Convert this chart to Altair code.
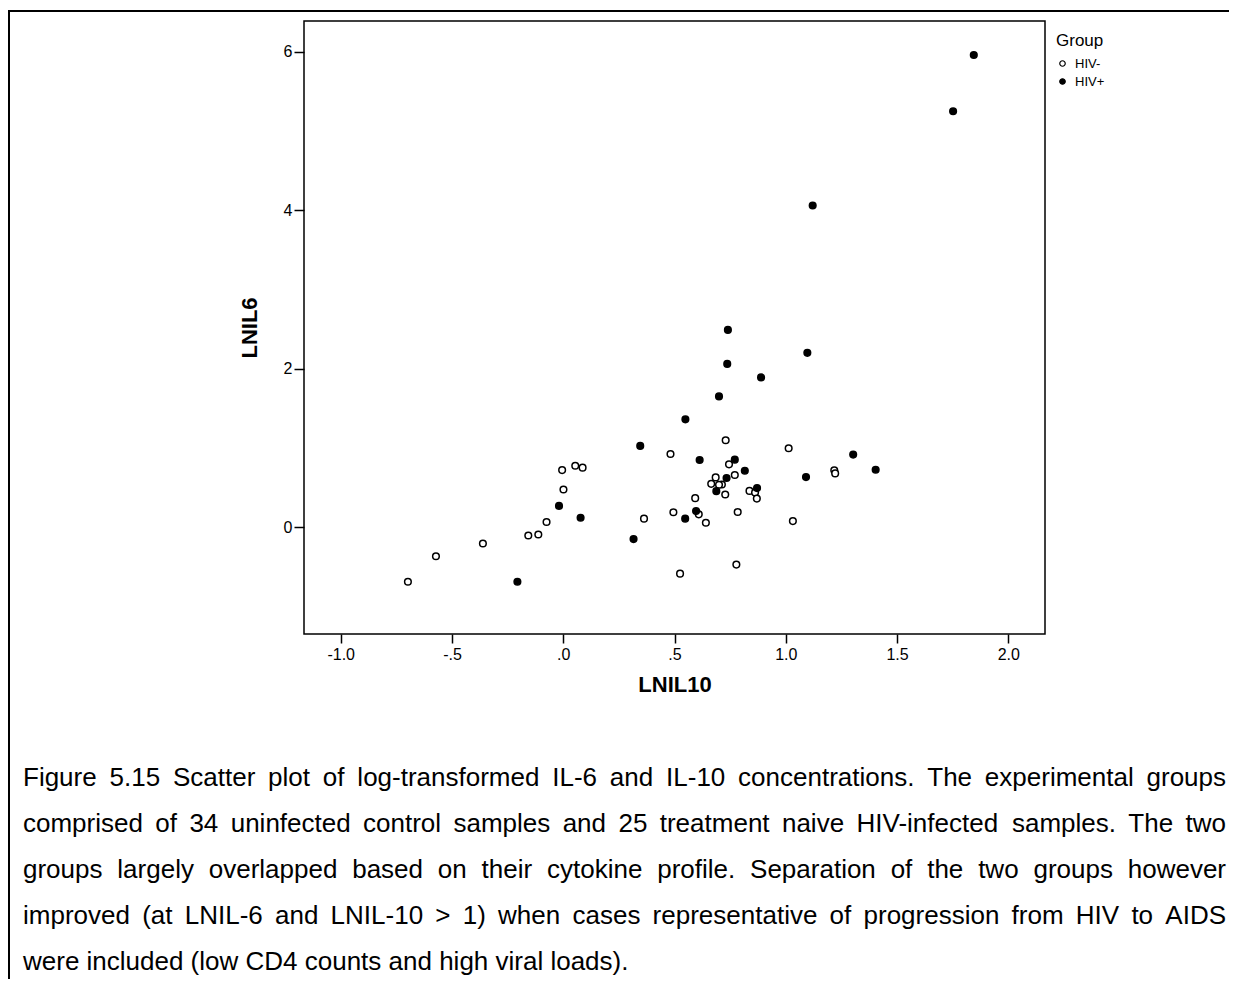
import altair as alt
import pandas as pd

# ---------------- data ----------------
groups = ["HIV-", "HIV+"]

hivneg_lnil10 = [-0.698, -0.572, -0.361, -0.157, -0.112, -0.075, 0.730, 0.482, 1.013, -0.005,
                 0.054, 0.087, 0.745, 0.771, 0.685, 0.665, 0.713, 0.700, 0.001, 0.837,
                 0.862, 0.728, 0.870, 0.593, 1.218, 1.222, 0.784, 0.495, 0.609, 0.363,
                 0.641, 1.032, 0.778, 0.525]
hivneg_lnil6 = [-0.690, -0.368, -0.207, -0.106, -0.093, 0.064, 1.097, 0.923, 0.995, 0.720,
                0.775, 0.750, 0.792, 0.657, 0.627, 0.546, 0.538, 0.534, 0.474, 0.457,
                0.436, 0.411, 0.360, 0.365, 0.716, 0.678, 0.191, 0.187, 0.161, 0.106,
                0.055, 0.076, -0.474, -0.588]

hivpos_lnil10 = [1.845, 1.752, 1.121, 0.740, 0.737, 1.097, 0.889, 0.700, 0.549, 0.346,
                 0.613, 0.771, 0.816, 0.734, 0.688, 0.871, 1.303, 1.091, -0.019, 0.078,
                 0.597, 0.548, 0.316, 1.404, -0.206]
hivpos_lnil6 = [5.96, 5.25, 4.06, 2.49, 2.06, 2.20, 1.89, 1.65, 1.36, 1.025,
                0.847, 0.851, 0.711, 0.619, 0.454, 0.492, 0.915, 0.631, 0.267, 0.118,
                0.203, 0.106, -0.152, 0.724, -0.690]

x_ticks = [-1.0, -0.5, 0.0, 0.5, 1.0, 1.5, 2.0]
x_tick_labels = ["-1.0", "-.5", ".0", ".5", "1.0", "1.5", "2.0"]
y_ticks = [0, 2, 4, 6]
y_tick_labels = ["0", "2", "4", "6"]

caption_lines = [
    "Figure 5.15 Scatter plot of log-transformed IL-6 and IL-10 concentrations. The experimental groups",
    "comprised of 34 uninfected control samples and 25 treatment naive HIV-infected samples. The two",
    "groups largely overlapped based on their cytokine profile. Separation of the two groups however",
    "improved (at LNIL-6 and LNIL-10 > 1) when cases representative of progression from HIV to AIDS",
    "were included (low CD4 counts and high viral loads).",
]

# ---------------- layout constants (pixels) ----------------
PLOT_W, PLOT_H = 741, 613
PAD_L, PAD_T = 296, 13
ORIGIN_X, ORIGIN_Y = PAD_L + 8, PAD_T + 8  # page coords of plot origin

CAP_FONT = 26
CAP_LEFT, CAP_RIGHT = 23, 1226
CAP_BASE0, CAP_STEP = 786, 46

# Arial / Liberation Sans advance widths (per 1000 em) for justification
W = {" ": 278, ".": 278, ",": 278, "-": 333, "(": 333, ")": 333, ">": 584}
W.update({d: 556 for d in "0123456789"})
W.update(dict(zip("abcdefghijklmnopqrstuvwxyz",
                  [556, 556, 500, 556, 556, 278, 556, 556, 222, 222, 500, 222, 833,
                   556, 556, 556, 556, 333, 500, 278, 556, 500, 722, 500, 500, 500])))
W.update(dict(zip("ABCDEFGHIJKLMNOPQRSTUVWXYZ",
                  [667, 667, 722, 722, 667, 611, 778, 722, 278, 500, 667, 556, 833,
                   722, 778, 667, 778, 722, 667, 611, 722, 667, 944, 667, 667, 611])))


def text_w(s):
    return sum(W.get(c, 556) for c in s) * CAP_FONT / 1000.0


rows = []
for i, line in enumerate(caption_lines):
    words = line.split(" ")
    base = CAP_BASE0 + i * CAP_STEP
    if i < len(caption_lines) - 1:
        total = sum(text_w(w) for w in words)
        gap = (CAP_RIGHT - CAP_LEFT - total) / (len(words) - 1)
    else:
        gap = text_w(" ")
    x = CAP_LEFT
    for w in words:
        rows.append({"word": w, "px": x - ORIGIN_X, "py": base - ORIGIN_Y})
        x += text_w(w) + gap
cap_df = pd.DataFrame(rows)

df = pd.DataFrame({
    "LNIL10": hivneg_lnil10 + hivpos_lnil10,
    "LNIL6": hivneg_lnil6 + hivpos_lnil6,
    "Group": [groups[0]] * len(hivneg_lnil10) + [groups[1]] * len(hivpos_lnil10),
})


def label_expr(vals, labels):
    expr = "''"
    for v, l in reversed(list(zip(vals, labels))):
        expr = f"abs(datum.value - ({v})) < 1e-6 ? '{l}' : {expr}"
    return expr


FONT = "Liberation Sans"

points = alt.Chart(df).mark_point(
    filled=True, size=44, stroke="black", strokeWidth=1.5, opacity=1, shape="circle"
).encode(
    x=alt.X("LNIL10:Q",
            scale=alt.Scale(domain=[-1.165, 2.165], nice=False, zero=False),
            axis=alt.Axis(values=x_ticks, labelExpr=label_expr(x_ticks, x_tick_labels),
                          title="LNIL10", grid=False, domain=False, tickSize=9,
                          tickColor="black", tickWidth=1.5, labelPadding=3,
                          labelFontSize=16, labelColor="black", labelFont=FONT,
                          titleFont=FONT, titleFontSize=22, titleFontWeight="bold",
                          titleColor="black", titlePadding=12)),
    y=alt.Y("LNIL6:Q",
            scale=alt.Scale(domain=[-1.35, 6.39], nice=False, zero=False),
            axis=alt.Axis(values=y_ticks, labelExpr=label_expr(y_ticks, y_tick_labels),
                          title="LNIL6", grid=False, domain=False, tickSize=10,
                          tickColor="black", tickWidth=1.5, labelPadding=2,
                          labelFontSize=16, labelColor="black", labelFont=FONT,
                          titleFont=FONT, titleFontSize=22, titleFontWeight="bold",
                          titleColor="black", titlePadding=22)),
    fill=alt.Fill("Group:N",
                  scale=alt.Scale(domain=groups, range=["white", "black"]),
                  legend=alt.Legend(title="Group", orient="none",
                                    legendX=1056 - ORIGIN_X, legendY=33 - ORIGIN_Y,
                                    titleFont=FONT, titleFontSize=17,
                                    titleFontWeight="normal", titleColor="black",
                                    titlePadding=7, labelFont=FONT, labelFontSize=13,
                                    labelColor="black", symbolType="circle",
                                    symbolSize=30, symbolStrokeColor="black",
                                    symbolStrokeWidth=1.2, rowPadding=4,
                                    labelOffset=6)),
)

caption = alt.Chart(cap_df).mark_text(
    align="left", baseline="alphabetic", font=FONT, fontSize=CAP_FONT, color="black"
).encode(
    x=alt.X("px:Q", scale=None, axis=None),
    y=alt.Y("py:Q", scale=None, axis=None),
    text="word:N",
)

border_top = alt.Chart(pd.DataFrame({"k": [0]})).mark_rule(
    color="black", strokeWidth=2
).encode(
    x=alt.value(8 - ORIGIN_X), x2=alt.value(1237 - ORIGIN_X),
    y=alt.value(11 - ORIGIN_Y),
)
border_left = alt.Chart(pd.DataFrame({"k": [0]})).mark_rule(
    color="black", strokeWidth=2
).encode(
    x=alt.value(9 - ORIGIN_X),
    y=alt.value(10 - ORIGIN_Y), y2=alt.value(987 - ORIGIN_Y),
)

chart = alt.layer(points, caption, border_top, border_left).properties(
    width=PLOT_W, height=PLOT_H,
    background="white",
    autosize=alt.AutoSizeParams(type="none"),
    padding={"left": PAD_L, "top": PAD_T, "right": 1221 - PAD_L - PLOT_W,
             "bottom": 971 - PAD_T - PLOT_H},
).configure_view(
    stroke="black", strokeWidth=1.5
)

chart.save("out.html", embed_options={"renderer": "svg", "actions": False})
